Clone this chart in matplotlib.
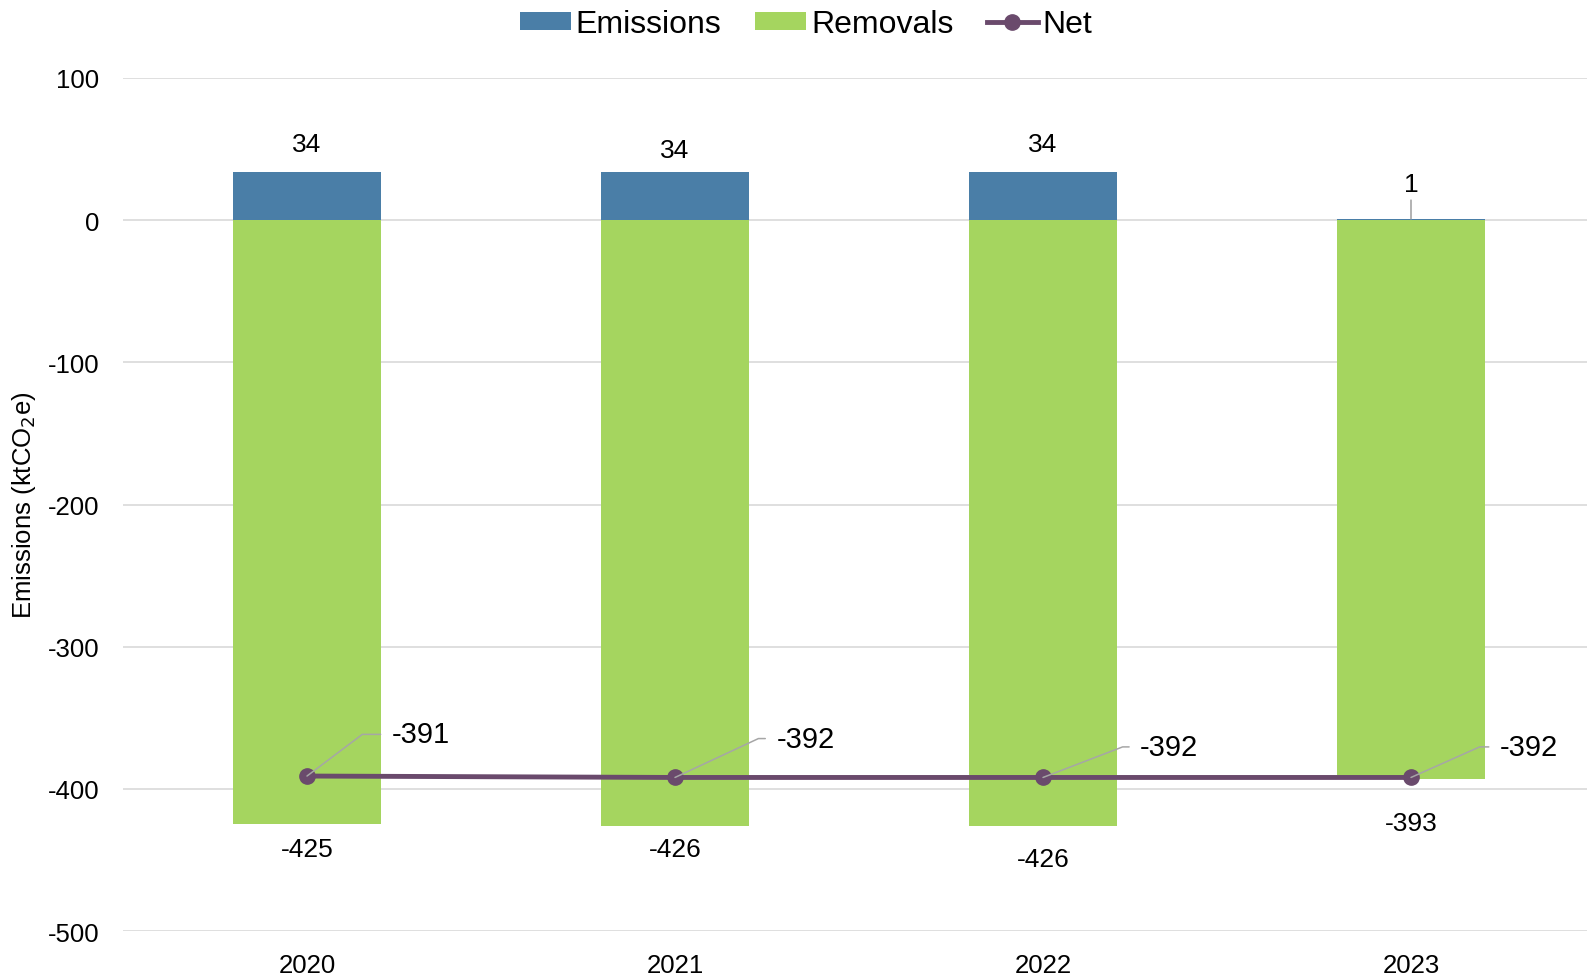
import matplotlib
matplotlib.use("Agg")
import matplotlib.pyplot as plt
import numpy as np

plt.rcParams['font.family'] = ['Liberation Sans', 'DejaVu Sans']
plt.rcParams['axes.unicode_minus'] = False

# data
years = ["2020", "2021", "2022", "2023"]
emissions = [34, 34, 34, 1]
removals = [-425, -426, -426, -393]
net = [-391, -392, -392, -392]

# label placement tweaks (points), mimicking the manual Excel layout
em_label_dy = [20, 16, 20, 25]
rem_label_dy = [-18, -17, -24, -32]
net_label_off = [(61, 30), (73, 28), (70, 22), (64, 22)]
net_leader_angle = [37, 25, 21, 24]

c_em = "#4A7EA7"
c_rem = "#A5D55F"
c_net = "#6A4A6C"
c_grid = "#D9D9D9"

fig = plt.figure(figsize=(15.87, 9.79), dpi=100)
ax = fig.add_axes([123 / 1587, 47 / 979, (1595 - 123) / 1587, 853 / 979])

x = np.arange(len(years))
w = 0.40
b1 = ax.bar(x, emissions, w, color=c_em, label="Emissions", zorder=2)
b2 = ax.bar(x, removals, w, color=c_rem, label="Removals", zorder=2)
l1, = ax.plot(x, net, color=c_net, lw=3.5, marker="o", markersize=11,
              label="Net", zorder=4)

ax.set_xlim(-0.5, 3.5)
ax.set_ylim(-500, 100)
ax.set_yticks(np.arange(-500, 101, 100))
ax.set_xticks(x)
ax.set_xticklabels(years)
ax.tick_params(axis="y", length=0, pad=17, labelsize=18.5)
ax.tick_params(axis="x", length=0, pad=16, labelsize=18.5)
ax.grid(axis="y", color=c_grid, lw=1.2, zorder=0)
for s in ax.spines.values():
    s.set_visible(False)

fig.text(24 / 1587, 0.484, "Emissions (ktCO$_2$e)", fontsize=18.5,
         rotation=90, ha="center", va="center")

lbl = dict(fontsize=19, ha="center", va="center")
for i in range(len(years)):
    if emissions[i] > 5:
        ax.annotate(str(emissions[i]), (x[i], emissions[i]),
                    xytext=(0, em_label_dy[i]), textcoords="offset points", **lbl)
    else:
        ax.annotate(str(emissions[i]), (x[i], emissions[i]),
                    xytext=(0, em_label_dy[i]), textcoords="offset points",
                    arrowprops=dict(arrowstyle="-", color="#A6A6A6", lw=1.2,
                                    shrinkA=1, shrinkB=0), **lbl)
    ax.annotate(str(removals[i]), (x[i], removals[i]),
                xytext=(0, rem_label_dy[i]), textcoords="offset points", **lbl)
    dx, dy = net_label_off[i]
    ax.annotate(str(net[i]), (x[i], net[i]),
                xytext=(dx, dy), textcoords="offset points",
                fontsize=21, ha="left", va="center", zorder=5,
                arrowprops=dict(arrowstyle="-", color="#A6A6A6", lw=1.1,
                                shrinkA=6, shrinkB=0,
                                connectionstyle="angle,angleA=0,angleB=%d,rad=0"
                                % net_leader_angle[i]))

fig.legend([b1, b2, l1], ["Emissions", "Removals", "Net"],
           loc="upper center", bbox_to_anchor=(0.508, 1.019), ncol=3,
           frameon=False, fontsize=23, handlelength=1.6, handleheight=0.5,
           handletextpad=0.15, columnspacing=1.05)

fig.savefig("out.png", dpi=100)
